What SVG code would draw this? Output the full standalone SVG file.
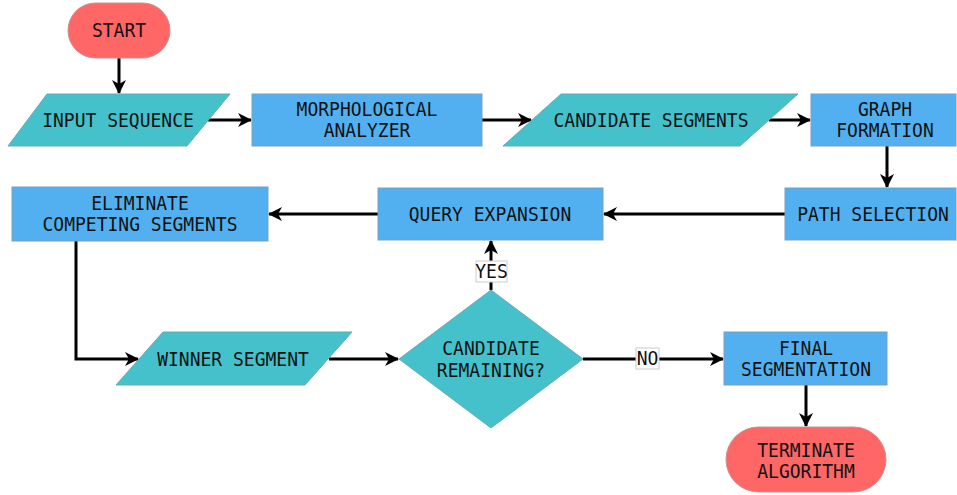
<svg xmlns="http://www.w3.org/2000/svg" width="957" height="495" viewBox="0 0 957 495">
  <style>
    .term { fill: #FF6666; stroke: #C89090; stroke-width: 1; }
    .io { fill: #45C1CC; stroke: #6AAAB4; stroke-width: 1; }
    .proc { fill: #52B0F0; stroke: #7A9FBF; stroke-width: 1; }
    .dec { fill: #45C1CC; stroke: #6AAAB4; stroke-width: 1; }
    text { font-family: "DejaVu Sans Mono", "Liberation Mono", monospace; font-size: 20px; fill: #111; text-anchor: middle;
           transform-box: fill-box; transform-origin: center; transform: scaleX(0.9); }
    .edge { fill: none; stroke: #000; stroke-width: 3; }
    .lbl { fill: #fff; stroke: #ccc; stroke-width: 1; }
  </style>
  <defs>
    <marker id="arrow" viewBox="0 0 14 14" refX="13" refY="7" markerWidth="14" markerHeight="14" markerUnits="userSpaceOnUse" orient="auto">
      <path d="M0,0 L14,7 L0,14 L4,7 Z" fill="#000"/>
    </marker>
  </defs>

  <g id="connectors">
    <path class="edge" d="M119,58 V93" marker-end="url(#arrow)"/>
    <path class="edge" d="M208,120 H251" marker-end="url(#arrow)"/>
    <path class="edge" d="M482,120 H531" marker-end="url(#arrow)"/>
    <path class="edge" d="M769,120 H810" marker-end="url(#arrow)"/>
    <path class="edge" d="M887,146 V187" marker-end="url(#arrow)"/>
    <path class="edge" d="M785,214 H604" marker-end="url(#arrow)"/>
    <path class="edge" d="M378,214 H269" marker-end="url(#arrow)"/>
    <path class="edge" d="M76,241 V359 H138" marker-end="url(#arrow)"/>
    <path class="edge" d="M329,359 H398" marker-end="url(#arrow)"/>
    <path class="edge" d="M491,290 V241" marker-end="url(#arrow)"/>
    <path class="edge" d="M583,359 H723" marker-end="url(#arrow)"/>
    <path class="edge" d="M806,385 V426" marker-end="url(#arrow)"/>
    <g id="label-yes">
      <rect class="lbl" x="476" y="261" width="31" height="21"/>
      <text x="491.5" y="278">YES</text>
    </g>
    <g id="label-no">
      <rect class="lbl" x="636" y="348" width="23" height="21"/>
      <text x="647.5" y="365">NO</text>
    </g>
  </g>

  <g id="start">
    <rect class="term" x="68" y="3" width="102" height="55" rx="27.5"/>
    <text x="119" y="37">START</text>
  </g>
  <g id="input-sequence">
    <polygon class="io" points="47,94 230,94 187,146 8,146"/>
    <text x="118" y="127">INPUT SEQUENCE</text>
  </g>
  <g id="morphological-analyzer">
    <rect class="proc" x="252" y="94" width="230" height="52"/>
    <text x="367" y="116">MORPHOLOGICAL</text>
    <text x="367" y="137">ANALYZER</text>
  </g>
  <g id="candidate-segments">
    <polygon class="io" points="561,94 798,94 740,146 503,146"/>
    <text x="651" y="127">CANDIDATE SEGMENTS</text>
  </g>
  <g id="graph-formation">
    <rect class="proc" x="811" y="94" width="145" height="52"/>
    <text x="885" y="116">GRAPH</text>
    <text x="885" y="137">FORMATION</text>
  </g>
  <g id="path-selection">
    <rect class="proc" x="785" y="188" width="171" height="52"/>
    <text x="873" y="221">PATH SELECTION</text>
  </g>
  <g id="query-expansion">
    <rect class="proc" x="378" y="188" width="225" height="52"/>
    <text x="490" y="221">QUERY EXPANSION</text>
  </g>
  <g id="eliminate-competing-segments">
    <rect class="proc" x="12" y="187" width="256" height="54"/>
    <text x="140" y="210">ELIMINATE</text>
    <text x="140" y="231">COMPETING SEGMENTS</text>
  </g>
  <g id="winner-segment">
    <polygon class="io" points="163,332 352,332 305,385 116,385"/>
    <text x="233" y="366">WINNER SEGMENT</text>
  </g>
  <g id="candidate-remaining">
    <polygon class="dec" points="491,290 583,359 491,428 399,359"/>
    <text x="491" y="355">CANDIDATE</text>
    <text x="491" y="377">REMAINING?</text>
  </g>
  <g id="final-segmentation">
    <rect class="proc" x="724" y="332" width="163" height="53"/>
    <text x="806" y="355">FINAL</text>
    <text x="806" y="376">SEGMENTATION</text>
  </g>
  <g id="terminate-algorithm">
    <rect class="term" x="726" y="427" width="160" height="65" rx="32.5"/>
    <text x="806" y="457">TERMINATE</text>
    <text x="806" y="478">ALGORITHM</text>
  </g>
</svg>
